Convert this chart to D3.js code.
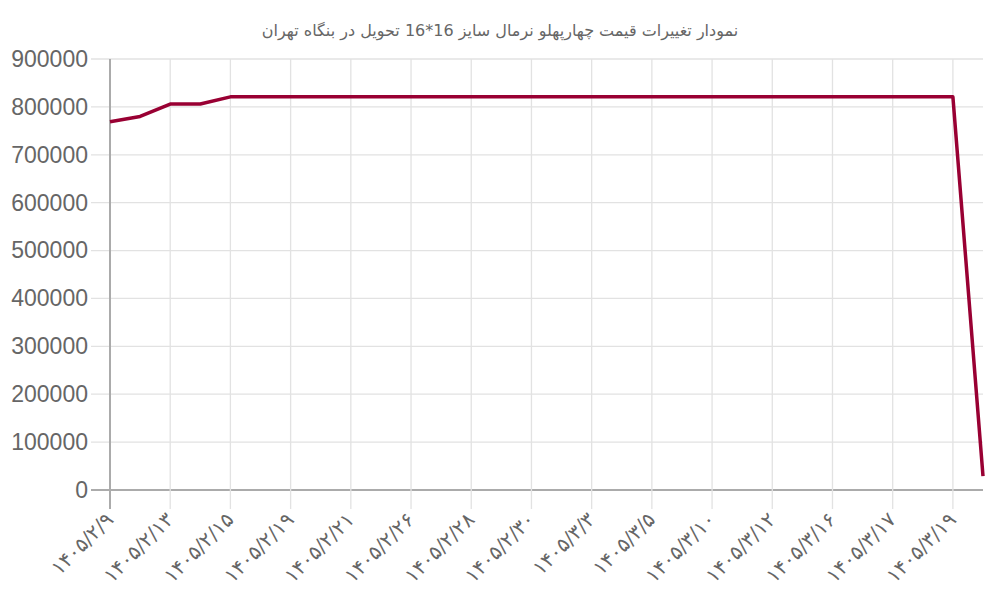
<!DOCTYPE html>
<html>
<head>
<meta charset="utf-8">
<script src="https://cdn.jsdelivr.net/npm/d3@7"></script>
<style>
  html, body { margin: 0; padding: 0; background: #fff; }
  svg { display: block; }
  .title { font-family: "DejaVu Sans", sans-serif; font-size: 16px; fill: #666; }
  .y-axis text { font-family: "Liberation Sans", Arial, sans-serif; font-size: 23px; fill: #666; }
  .x-axis text { font-family: "DejaVu Sans", sans-serif; font-size: 20px; fill: #666; letter-spacing: 0.5px; }
</style>
</head>
<body>
<div id="chart"></div>
<script>
// chart data
const chartTitle = 'نمودار تغییرات قیمت چهارپهلو نرمال سایز 16*16 تحویل در بنگاه تهران';
const dates = [
  '۱۴۰۵/۲/۹', '۱۴۰۵/۲/۱۲', '۱۴۰۵/۲/۱۳', '۱۴۰۵/۲/۱۴', '۱۴۰۵/۲/۱۵', '۱۴۰۵/۲/۱۶',
  '۱۴۰۵/۲/۱۹', '۱۴۰۵/۲/۲۰', '۱۴۰۵/۲/۲۱', '۱۴۰۵/۲/۲۳', '۱۴۰۵/۲/۲۶', '۱۴۰۵/۲/۲۷',
  '۱۴۰۵/۲/۲۸', '۱۴۰۵/۲/۲۹', '۱۴۰۵/۲/۳۰', '۱۴۰۵/۳/۱', '۱۴۰۵/۳/۳', '۱۴۰۵/۳/۴',
  '۱۴۰۵/۳/۵', '۱۴۰۵/۳/۶', '۱۴۰۵/۳/۱۰', '۱۴۰۵/۳/۱۱', '۱۴۰۵/۳/۱۲', '۱۴۰۵/۳/۱۳',
  '۱۴۰۵/۳/۱۶', '۱۴۰۵/۳/۱۶', '۱۴۰۵/۳/۱۷', '۱۴۰۵/۳/۱۸', '۱۴۰۵/۳/۱۹', '۱۴۰۵/۳/۲۰'
];
const prices = [
  769000, 780000, 806000, 806000, 821000, 821000,
  821000, 821000, 821000, 821000, 821000, 821000,
  821000, 821000, 821000, 821000, 821000, 821000,
  821000, 821000, 821000, 821000, 821000, 821000,
  821000, 821000, 821000, 821000, 821000, 29000
];
const yTicks = [0, 100000, 200000, 300000, 400000, 500000, 600000, 700000, 800000, 900000];

const width = 1000, height = 600;
const margin = { top: 59, right: 17, bottom: 110, left: 110 };
const innerW = width - margin.left - margin.right;
const innerH = height - margin.top - margin.bottom;

const svg = d3.select('#chart').append('svg')
  .attr('width', width)
  .attr('height', height);

svg.append('text')
  .attr('class', 'title')
  .attr('x', width / 2)
  .attr('y', 36)
  .attr('text-anchor', 'middle')
  .text(chartTitle);

const g = svg.append('g')
  .attr('transform', 'translate(' + margin.left + ',' + margin.top + ')');

const x = d3.scalePoint().domain(d3.range(dates.length)).range([0, innerW]);
const y = d3.scaleLinear().domain([0, 900000]).range([innerH, 0]);

const shownIdx = d3.range(0, dates.length, 2);
const tickLen = 19;

// horizontal grid
g.append('g').selectAll('line')
  .data(yTicks)
  .join('line')
  .attr('x1', -tickLen).attr('x2', innerW)
  .attr('y1', d => y(d)).attr('y2', d => y(d))
  .attr('stroke', d => d === 0 ? '#ababab' : '#e2e2e2')
  .attr('stroke-width', d => d === 0 ? 2 : 1.3);

// vertical grid
g.append('g').selectAll('line')
  .data(shownIdx)
  .join('line')
  .attr('x1', d => x(d)).attr('x2', d => x(d))
  .attr('y1', 0).attr('y2', innerH + tickLen)
  .attr('stroke', d => d === 0 ? '#ababab' : '#e2e2e2')
  .attr('stroke-width', d => d === 0 ? 2 : 1.3);

// y axis labels
const yAxis = g.append('g').attr('class', 'y-axis')
  .call(d3.axisLeft(y).tickValues(yTicks).tickFormat(d3.format('d')).tickSize(0).tickPadding(tickLen + 3));
yAxis.select('.domain').remove();

// x axis labels
const xAxis = g.append('g').attr('class', 'x-axis')
  .attr('transform', 'translate(0,' + innerH + ')')
  .call(d3.axisBottom(x).tickValues(shownIdx).tickFormat(i => dates[i]).tickSize(0));
xAxis.select('.domain').remove();
xAxis.selectAll('text')
  .attr('direction', 'ltr')
  .attr('text-anchor', 'end')
  .attr('dy', null)
  .attr('y', null)
  .attr('transform', 'translate(4,31) rotate(-45)');

// line
g.append('path')
  .datum(prices)
  .attr('fill', 'none')
  .attr('stroke', '#990033')
  .attr('stroke-width', 3.5)
  .attr('stroke-linejoin', 'round')
  .attr('d', d3.line().x((d, i) => x(i)).y(d => y(d)));
</script>
</body>
</html>
